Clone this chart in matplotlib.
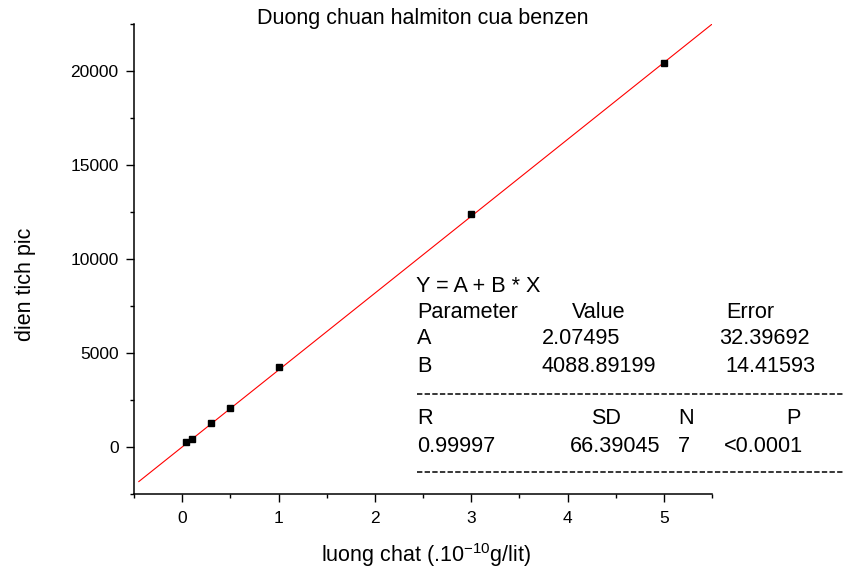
import matplotlib
matplotlib.use("Agg")
import matplotlib.pyplot as plt
from matplotlib.lines import Line2D
import numpy as np

plt.rcParams["font.family"] = ["Liberation Sans", "DejaVu Sans"]
plt.rcParams["mathtext.fontset"] = "custom"
plt.rcParams["mathtext.rm"] = "Liberation Sans"
plt.rcParams["mathtext.it"] = "Liberation Sans:italic"

# calibration points
luong_chat = [0.04, 0.1, 0.3, 0.5, 1.0, 3.0, 5.0]
dien_tich = [250, 440, 1300, 2050, 4250, 12380, 20450]

# linear fit results printed on the chart
A, A_err = 2.07495, 32.39692
B, B_err = 4088.89199, 14.41593
R, SD, N, P = 0.99997, 66.39045, 7, "<0.0001"
fit_range = [-0.45, 5.5]

W, H = 843, 570
fig = plt.figure(figsize=(W / 100, H / 100), dpi=100)
ax = fig.add_axes([134 / W, 1 - 494 / H, (712 - 134) / W, (494 - 24) / H])

xf = np.linspace(fit_range[0], fit_range[1], 200)
ax.plot(xf, A + B * xf, color="red", lw=0.8)
ax.plot(luong_chat, dien_tich, "s", color="black", markersize=4.5)

ax.set_xlim(-0.5, 5.5)
ax.set_ylim(-2500, 22500)
ax.set_xticks(range(0, 6))
ax.set_xticks(np.arange(-0.5, 5.51, 0.5), minor=True)
ax.set_yticks(range(0, 20001, 5000))
ax.set_yticks(range(-2500, 22501, 2500), minor=True)
ax.spines["top"].set_visible(False)
ax.spines["right"].set_visible(False)
for s in ["left", "bottom"]:
    ax.spines[s].set_linewidth(1.1)
ax.tick_params(which="major", direction="out", length=6, width=1, labelsize=12.5)
ax.tick_params(axis="x", which="major", pad=6)
ax.tick_params(axis="y", which="major", pad=5)
ax.tick_params(which="minor", direction="out", length=3, width=1)

fig.text(423 / W, 1 - 24 / H, "Duong chuan halmiton cua benzen", fontsize=15.5,
         ha="center", va="baseline")
fig.text(426 / W, 1 - 562 / H, "luong chat (.10$^{-10}$g/lit)", fontsize=15.5,
         ha="center", va="baseline")
fig.text(25 / W, 1 - 284 / H, "dien tich pic", fontsize=15.5, rotation=90,
         ha="center", va="center")


def put(x, y, s):
    fig.text(x / W, 1 - y / H, s, fontsize=15.6, va="center", ha="left")


put(416, 287, "Y = A + B * X")
put(417, 312, "Parameter")
put(572, 312, "Value")
put(726, 312, "Error")
put(417, 339, "A")
put(542, 339, f"{A:.5f}")
put(719, 339, f"{A_err:.5f}")
put(417, 366, "B")
put(542, 366, f"{B:.5f}")
put(725, 366, f"{B_err:.5f}")
put(417, 419, "R")
put(591, 419, "SD")
put(678, 419, "N")
put(786, 419, "P")
put(417, 446, f"{R:.5f}")
put(570, 446, f"{SD:.5f}")
put(678, 446, str(N))
put(724, 446, P)

for yy in [394, 472]:
    fig.add_artist(Line2D([417 / W, 1.0], [1 - yy / H] * 2, color="black", lw=1.1,
                          linestyle=(0, (3.5, 1.5))))

fig.savefig("out.png", dpi=100)
